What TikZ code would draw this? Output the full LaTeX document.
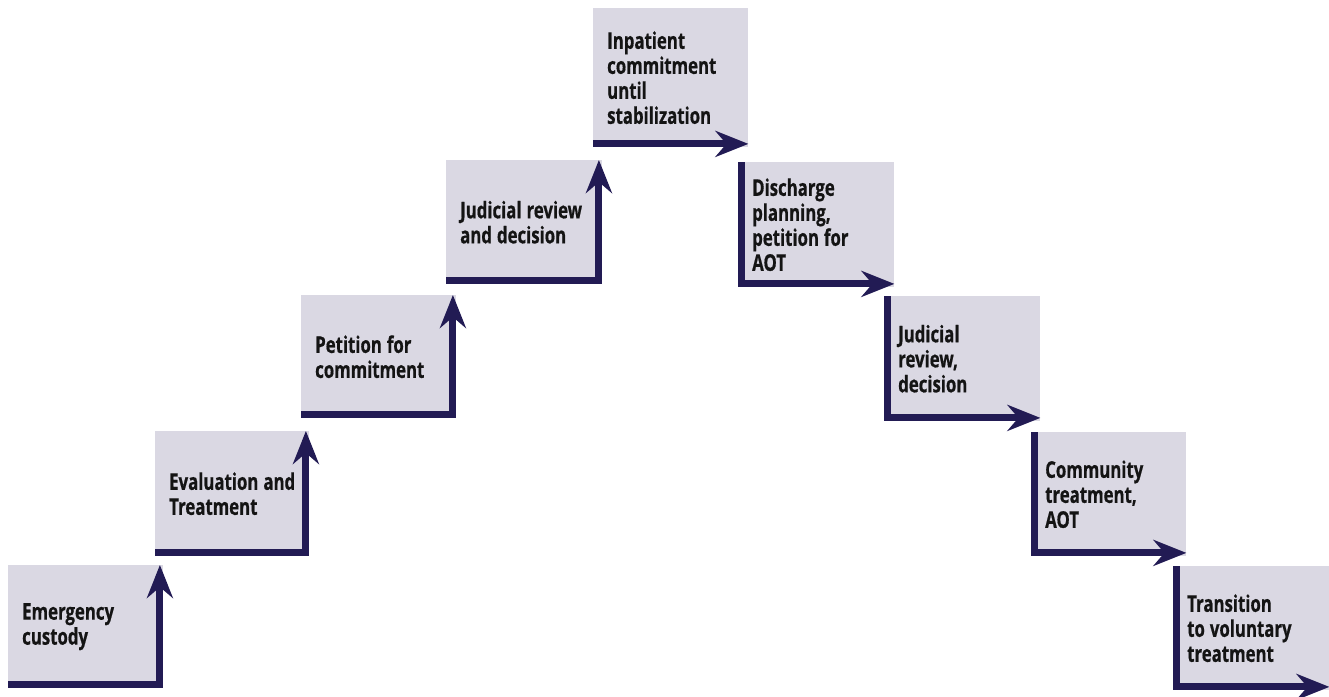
\documentclass[tikz,border=0pt]{standalone}
\usepackage{fontspec}
\setsansfont{Open Sans}[FakeStretch=0.73, FakeBold=0.6]
\usetikzlibrary{arrows.meta}
\definecolor{boxfill}{RGB}{218,216,227}
\definecolor{navy}{RGB}{34,27,84}
\DeclareRobustCommand{\boxfont}{\sffamily\bfseries\fontsize{23}{25}\selectfont}
\tikzset{
  box/.style={fill=boxfill, draw=none, anchor=north west, inner xsep=14pt, inner ysep=0pt,
    align=left, font=\boxfont, text=black!92,
    execute at begin node={\spaceskip=5pt\relax\xspaceskip=5pt\relax}},
  arr/.style={draw=navy, line width=7pt,
    -{Stealth[length=33pt,width=26pt,inset=11pt]}}
}
\begin{document}
\begin{tikzpicture}[x=1pt,y=-1pt]
\useasboundingbox (0,0) rectangle (1329,696);
\node[box, text width=127pt, minimum height=123pt] (b1) at (8,565) {Emergency\\custody};
\node[box, text width=126pt, minimum height=125pt] (b2) at (155,431) {\mbox{Evaluation and}\\Treatment};
\node[box, text width=127pt, minimum height=123pt] (b3) at (301,295) {Petition for\\commitment};
\node[box, text width=128pt, minimum height=124pt] (b4) at (446,160) {\mbox{Judicial review}\\and decision};
\node[box, text width=127pt, minimum height=139pt] (b5) at (593,8) {Inpatient\\commitment\\until\\stabilization};
\node[box, text width=128pt, minimum height=125pt] (b6) at (738,162) {Discharge\\planning,\\petition for\\AOT};
\node[box, text width=128pt, minimum height=125pt] (b7) at (884,296) {Judicial\\review,\\decision};
\node[box, text width=127pt, minimum height=124pt] (b8) at (1031,432) {Community\\treatment,\\AOT};
\node[box, text width=128pt, minimum height=124pt] (b9) at (1173,566) {Transition\\to voluntary\\treatment};
\foreach \b in {b1,b2,b3,b4}
  \draw[arr] ([yshift=3.5pt]\b.south west) -| ([xshift=-3.5pt]\b.north east);
\draw[arr] ([yshift=3.5pt]b5.south west) -- ([yshift=3.5pt]b5.south east);
\foreach \b in {b6,b7,b8,b9}
  \draw[arr] ([xshift=3.5pt]\b.north west) |- ([yshift=3.5pt]\b.south east);
\end{tikzpicture}
\end{document}
